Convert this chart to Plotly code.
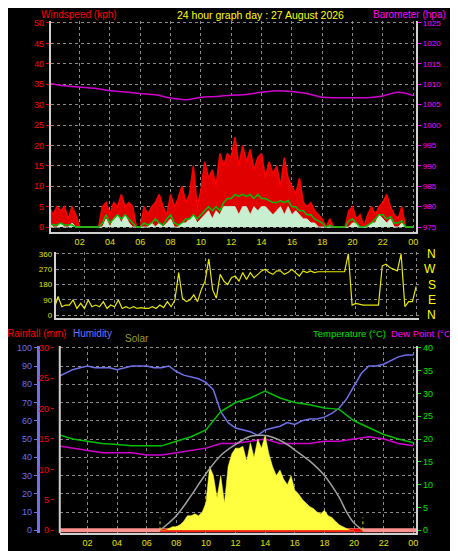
import numpy as np
import plotly.graph_objects as go

W, H = 458, 551
def px(x): return x / W
def py(y): return 1 - y / H

t15 = np.arange(0, 24.01, 0.25)
gust = [5,3,5,4, 5,2,5,3, 0,0,0,0, 0,0,5,6, 3,6,5,8, 5,6,5,0, 0,5,3,5, 6,8,5,3,
        8,5,7,10, 6,8,15,5, 9,16,12,14, 10,18,15,18, 17,22,15,20, 16,19,14,17, 18,12,16,13,
        15,10,17,12, 10,8,12,6, 5,6,4,3, 2,0,2,0, 0,0,0,4, 5,2,3,0, 3,5,3,5, 6,8,5,3, 2,5,0,0, 0]
wind_avg = [1,0.5,0.5,1, 0.5,0.5,0.5,0, 0,0,0,0, 0,0,1,3, 1,2,3,2, 3,2,1,0, 0,1,0.5,1, 2,1,0.5,2,
            3,1,0.5,1, 2,2,3,2, 3,4,5,4, 5,4,6,7, 7,8,7.5,8, 7.5,8,7,8, 7,7,6.5,6, 6,6.5,6,6.5,
            5,5,4,4, 3,3,2,1.5, 1,0,0.5,0, 0,0,0,1.5, 2,1,0,0, 0.5,1,2,3, 3,2,2.5,1, 1,1.5,0,0, 0]
wind_light = [1,0,0,1, 0,0,1,0, 0,0,0,0, 0,0,0,2, 0,2,3,1, 3,1,0,0, 0,0,0,1, 0,1,0,1,
              2,0,0,1, 1,2,3,1, 2,3,4,2, 4,3,5,5, 5,5,3,5, 5,3,5,4, 5,5,4,3, 4,5,3,5,
              3,4,3,2, 2,1,1,0, 0,0,0,0, 0,0,0,0, 1,1,0,0, 0,1,1,3, 2,1,2,0, 0,1,0,0, 0]
wind_dir = [40,110,50,60, 60,90,40,70, 40,90,50,60, 50,80,40,60, 50,90,40,50, 40,50,40,45,
            40,40,50,40, 60,45,80,50, 90,250,100,80, 90,120,80,150, 200,330,150,100,
            240,200,180,220, 230,200,250,210, 250,220,240,260, 270,250,240,260, 260,240,250,270,
            250,230,260,250, 260,250,255,255, 255,255,255,255, 255,255,360,60, 70,65,60,60,
            60,60,60,290, 300,280,270,260, 360,50,80,80, 170]

t1 = np.arange(0, 25, 1)
baro = [1010.2,1009.6,1009.3,1009.0,1008.4,1008.1,1007.7,1007.4,1006.6,1006.2,1006.8,1007.0,
        1007.3,1007.5,1008.0,1008.4,1008.2,1007.7,1006.8,1006.7,1006.7,1006.7,1007.1,1008.0,1007.2]

t30 = np.arange(0, 24.01, 0.5)
humidity = [84,86,88,89,90,89,89,89,88,89,90,90,90,89,89,90,87,85,84,83,81,77,65,59,56,55,54,52,
            55,56,57,59,58,60,61,61,62,64,67,72,79,86,90,90,91,93,95,96,96]
temperature = [21,20,19.5,19,18.8,18.5,18.5,18.5,19.5,20.5,22,26,28,29,30.5,29,28,27.5,26.8,26.5,
               24,22.5,21,20,19.2]
dewpoint = [18.5,18,17.5,17,17,17,16.5,16.5,17,17.5,18,19,19,19.5,20,19,19,19,19.5,19.5,20,20.5,20,19,18.5]

solar_t = np.arange(7, 20.01, 0.25)
solar = [0,0,1,2, 2,3,5,8, 8,9,8,10, 15,35,30,18, 30,15,35,42, 45,45,46,38, 48,40,50,45,
         52,42,35,30, 33,28,25,30, 22,20,17,15, 13,12,10,9, 11,8,7,5, 3,2,1,0, 0]
solar_max_t = [6.9,8,9,10,11,12,13,13.8,14.5,15.5,16,17,18,19,19.5,20,20.6]
solar_max = [0,8,19,31,41,47,51.5,52,51,47,44,38,30,18,10,4,0]
rain_t = [0.13, 24.2]
rain = [0, 0]
sun_events = [6.9, 20.6]

hour_vals = list(range(2, 25, 2))
hour_text = ["%02d" % (h % 24) for h in hour_vals]

grid = dict(showgrid=True, gridcolor="#8a8a8a", griddash="dot", gridwidth=1)
tf = dict(family="Liberation Sans", size=9)

fig = go.Figure()
fig.add_trace(go.Scatter(x=t15, y=gust, mode="lines", line=dict(color="#ff0000", width=1.5),
                         fill="tozeroy", fillcolor="#e00000", xaxis="x", yaxis="y"))
fig.add_trace(go.Scatter(x=t15, y=wind_light, mode="lines", line=dict(color="#c8f0d0", width=1),
                         fill="tozeroy", fillcolor="#c8f0d0", xaxis="x", yaxis="y"))
fig.add_trace(go.Scatter(x=t15, y=wind_avg, mode="lines", line=dict(color="#00c000", width=1.5),
                         xaxis="x", yaxis="y"))
fig.add_trace(go.Scatter(x=t1, y=baro, mode="lines", line=dict(color="#d000d0", width=1.5),
                         line_shape="spline", xaxis="x", yaxis="y2"))
fig.add_trace(go.Scatter(x=t15, y=wind_dir, mode="lines", line=dict(color="#e8e800", width=1.2),
                         xaxis="x2", yaxis="y3"))
fig.add_trace(go.Scatter(x=solar_t, y=solar, mode="lines", line=dict(color="#ffff30", width=0.5),
                         fill="tozeroy", fillcolor="#ffff40", xaxis="x3", yaxis="y7"))
fig.add_trace(go.Scatter(x=solar_max_t, y=solar_max, mode="lines", line=dict(color="#a0a0a0", width=1.5),
                         line_shape="spline", xaxis="x3", yaxis="y7"))
for s in sun_events:
    fig.add_trace(go.Scatter(x=[s, s], y=[0, 7], mode="lines", line=dict(color="#e0e000", width=1, dash="dot"),
                             xaxis="x3", yaxis="y7"))
fig.add_trace(go.Scatter(x=rain_t, y=rain, mode="lines", line=dict(color="#ff9090", width=4),
                         xaxis="x3", yaxis="y5"))
fig.add_trace(go.Scatter(x=sun_events, y=[0, 0], mode="lines", line=dict(color="#ff0000", width=3),
                         xaxis="x3", yaxis="y5"))
fig.add_trace(go.Scatter(x=t30, y=humidity, mode="lines", line=dict(color="#7070e8", width=1.5),
                         xaxis="x3", yaxis="y4"))
fig.add_trace(go.Scatter(x=t1, y=temperature, mode="lines", line=dict(color="#00c000", width=1.5),
                         xaxis="x3", yaxis="y6"))
fig.add_trace(go.Scatter(x=t1, y=dewpoint, mode="lines", line=dict(color="#d000d0", width=1.5),
                         xaxis="x3", yaxis="y6"))

xcommon = dict(tickvals=hour_vals, ticktext=hour_text, tickfont=dict(color="#e0e000", **tf),
               showline=True, linecolor="#d0d0d0", linewidth=2, zeroline=False, ticks="", **grid)

fig.update_layout(
    width=W, height=H, autosize=False, showlegend=False,
    margin=dict(l=0, r=0, t=0, b=0),
    paper_bgcolor="black", plot_bgcolor="black",
    xaxis=dict(domain=[px(43), px(410)], range=[0.1, 24.2], anchor="y", **xcommon),
    yaxis=dict(domain=[py(223), py(10)], range=[-1.2, 50.5], dtick=5, tick0=0,
               tickfont=dict(color="#ff0000", **tf), ticks="outside", ticklen=3, tickcolor="#ff0000",
               showline=True, linecolor="#d0d0d0", linewidth=2, zeroline=False, **grid),
    yaxis2=dict(overlaying="y", side="right", anchor="x", range=[973.8, 1025.5], dtick=5, tick0=975,
                tickfont=dict(color="#ff00ff", family="Liberation Sans", size=8), ticks="outside",
                ticklen=3, tickcolor="#ff00ff",
                showline=True, linecolor="#d0d0d0", linewidth=2, showgrid=False, zeroline=False),
    xaxis2=dict(domain=[px(48), px(413)], range=[0.1, 24.2], anchor="y3", showticklabels=False,
                **{k: v for k, v in xcommon.items() if k not in ("tickfont",)}),
    yaxis3=dict(domain=[py(310), py(243)], range=[-17, 372], tickvals=[0, 90, 180, 270, 360],
                tickfont=dict(color="#e0e000", family="Liberation Sans", size=8), anchor="x2",
                showline=True, linecolor="#d0d0d0", linewidth=2, zeroline=False, **grid),
    xaxis3=dict(domain=[px(52), px(410)], range=[0.13, 24.2], anchor="y4", **xcommon),
    yaxis4=dict(domain=[py(527), py(338)], range=[-1.6, 101], dtick=10, anchor="free", position=px(30),
                tickfont=dict(color="#7070e8", **tf), ticks="outside", ticklen=3, tickcolor="#7070e8",
                showline=True, linecolor="#7070e8", linewidth=3, zeroline=False, **grid),
    yaxis5=dict(overlaying="y4", anchor="free", position=px(46), range=[-0.49, 30.3], dtick=5,
                tickfont=dict(color="#ff0000", **tf), ticks="outside", ticklen=3, tickcolor="#ff0000",
                showline=False, showgrid=False, zeroline=False),
    yaxis6=dict(overlaying="y4", side="right", anchor="x3", range=[-0.65, 40.4], dtick=5,
                tickfont=dict(color="#00e000", **tf), ticks="outside", ticklen=3, tickcolor="#00e000",
                showline=True, linecolor="#d0d0d0", linewidth=2, showgrid=False, zeroline=False),
    yaxis7=dict(overlaying="y4", range=[-1.6, 101], visible=False),
)

fig.add_shape(type="line", xref="paper", yref="paper", x0=px(52), x1=px(52), y0=py(527), y1=py(338),
              line=dict(color="#d0d0d0", width=2))

def ann(text, x, y, color, anchor="left", size=10):
    fig.add_annotation(text=text, x=px(x), y=py(y), xref="paper", yref="paper", showarrow=False,
                       xanchor=anchor, yanchor="middle", borderpad=0,
                       font=dict(color=color, size=size, family="Liberation Sans"))

ann("Windspeed (kph)", 32, 4, "#ff0000", size=10)
ann("24 hour graph day : 27 August 2026", 254, 4, "#ffff00", anchor="center", size=10.5)
ann("Barometer (hpa)", 366, 4, "#ff00ff", size=10)
ann("Rainfall (mm)", -2, 325, "#ff0000")
ann("Humidity", 64, 325, "#7070ff")
ann("Solar", 117, 330, "#999922")
ann("Temperature (°C)", 305, 325, "#00e000", size=9.5)
ann("Dew Point (°C)", 384, 325, "#ff00ff", size=9.5)
for lab, v in zip(["N", "W", "S", "E", "N"], [360, 270, 180, 90, 0]):
    fig.add_annotation(text=lab, x=px(432), y=v, xref="paper", yref="y3", showarrow=False,
                       font=dict(color="#ffff00", size=12, family="Liberation Sans"))

fig.write_html("out.html")
